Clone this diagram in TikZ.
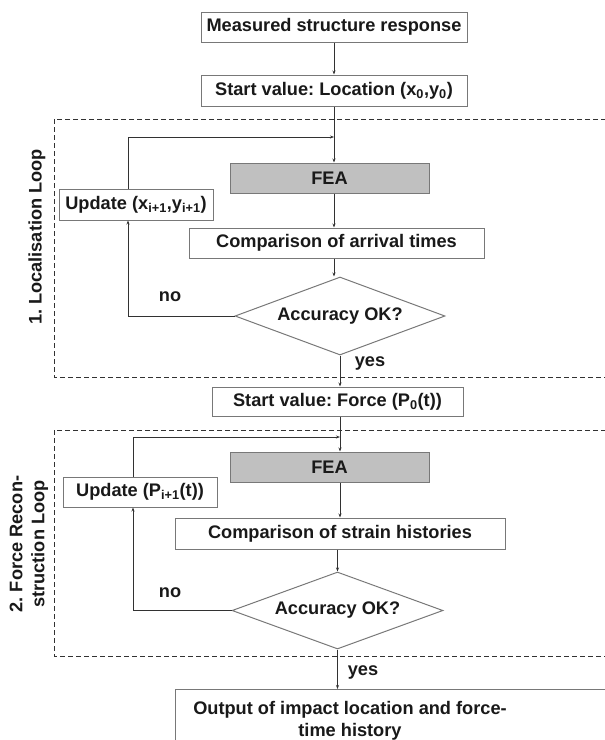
\documentclass[tikz,border=0pt]{standalone}
\usepackage{fontspec}
\setmainfont{Liberation Sans}
\frenchspacing
\usetikzlibrary{shapes.geometric,arrows.meta}
\definecolor{boxgray}{RGB}{120,120,120}
\definecolor{feagray}{RGB}{192,192,192}
\definecolor{linegray}{RGB}{50,50,50}
\tikzset{
  every node/.style={font=\fontsize{18.2}{22}\selectfont\bfseries, text=black!90},
  box/.style={draw=boxgray, line width=1pt, fill=white, inner sep=0pt, minimum height=30pt},
  feabox/.style={box, fill=feagray},
  decision/.style={diamond, draw=boxgray, line width=1pt, aspect=2.7, inner sep=0pt, minimum width=210pt, minimum height=78pt},
  arr/.style={-{Stealth[length=4pt,width=3pt]}, line width=0.8pt, draw=linegray},
  loopframe/.style={draw=linegray, line width=1pt, dash pattern=on 5pt off 3pt}
}
\begin{document}
\begin{tikzpicture}[x=1pt,y=1pt]
\path[use as bounding box, clip] (0,0) rectangle (605,-740);
% Dashed loop frames
\draw[loopframe] (54,-119) rectangle (620,-377);
\draw[loopframe] (54,-430) rectangle (620,-656);
% Loop titles
\node[rotate=90] (title1) at (37,-237) {1. Localisation Loop};
\node[rotate=90, align=center] (title2) at (29,-544) {2. Force Recon-\\struction Loop};
% Main column
\node[box, minimum width=266pt] (meas) at (334,-27) {Measured structure response};
\node[box, minimum width=266pt, minimum height=31pt] (start1) at (334,-90.5) {Start value: Location (x\textsubscript{0},y\textsubscript{0})};
\node[feabox, minimum width=199pt] (fea1) at (329.5,-178) {FEA};
\node[box, minimum width=154pt, minimum height=31pt] (upd1) at (136,-204.5) {Update (x\textsubscript{i+1},y\textsubscript{i+1})};
\node[box, minimum width=295pt] (comp1) at (336.5,-243) {Comparison of arrival times};
\node[decision] (dia1) at (340,-316) {Accuracy OK?};
\node[box, minimum width=251pt, minimum height=29pt] (start2) at (337.5,-401.5) {Start value: Force (P\textsubscript{0}(t))};
\node[feabox, minimum width=199pt] (fea2) at (329.5,-467) {FEA};
\node[box, minimum width=154pt] (upd2) at (140,-492) {Update (P\textsubscript{i+1}(t))};
\node[box, minimum width=330pt, minimum height=31pt] (comp2) at (340,-533.5) {Comparison of strain histories};
\node[decision, minimum width=211pt, minimum height=77pt] (dia2) at (337.5,-610.5) {Accuracy OK?};
\node[box, anchor=north west, minimum width=470pt, minimum height=80pt] (outbox) at (175,-689) {};
\node[align=center] (outtext) at (350,-721) {Output of impact location and force-\\time history};
% Branch labels
\node (no1) at (170,-297) {no};
\node (yes1) at (370,-363) {yes};
\node (no2) at (170,-593) {no};
\node (yes2) at (363,-672) {yes};
% Loop corners
\coordinate (j1) at (128,-137);
\coordinate (j2) at (133,-437);
% Connectors, first loop
\draw[arr] (meas) -- (start1);
\draw[arr] (start1) -- (start1 |- fea1.north);
\draw[arr] (upd1.north -| j1) |- (j1 -| start1);
\draw[arr] (start1 |- fea1.south) -- (start1 |- comp1.north);
\draw[arr] (start1 |- comp1.south) -- (start1 |- dia1.north);
\draw[arr] (dia1.west) -| (upd1.south -| j1);
\draw[arr] (dia1.south) -- (dia1.south |- start2.north);
% Connectors, second loop
\draw[arr] (dia1.south |- start2.south) -- (dia1.south |- fea2.north);
\draw[arr] (upd2.north -| j2) |- (j2 -| dia1.south);
\draw[arr] (dia1.south |- fea2.south) -- (dia1.south |- comp2.north);
\draw[arr] (dia2.north |- comp2.south) -- (dia2.north);
\draw[arr] (dia2.west) -| (upd2.south -| j2);
\draw[arr] (dia2.south) -- (dia2.south |- outbox.north);
\end{tikzpicture}
\end{document}
